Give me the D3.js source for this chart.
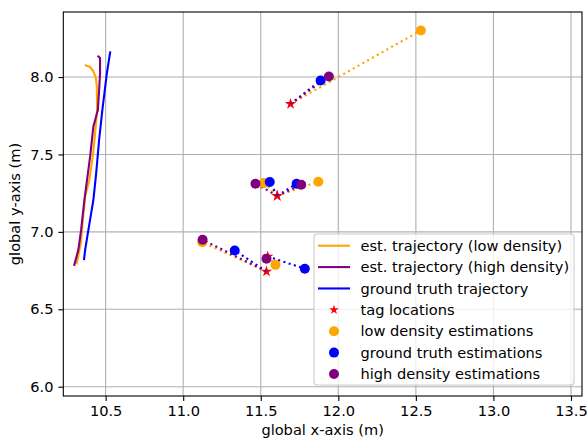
<!DOCTYPE html>
<html><head><meta charset="utf-8">
<script src="https://cdn.jsdelivr.net/npm/d3@7"></script>
<style>body{margin:0;background:#fff}svg{display:block}text{font-family:"DejaVu Sans",sans-serif}</style>
</head><body><svg id="c" width="587" height="438"></svg>
<script>
// ---- data ----
const xTicks = [10.5, 11.0, 11.5, 12.0, 12.5, 13.0, 13.5];
const yTicks = [6.0, 6.5, 7.0, 7.5, 8.0];
const trajLow = [[10.372,8.075],[10.400,8.065],[10.421,8.036],[10.437,7.994],[10.443,7.939],[10.445,7.789],[10.432,7.638],[10.417,7.487],[10.395,7.337],[10.368,7.229],[10.353,7.078],[10.340,6.928],[10.314,6.798]];
const trajHigh = [[10.298,6.787],[10.324,6.884],[10.342,7.014],[10.363,7.207],[10.400,7.487],[10.421,7.681],[10.450,7.789],[10.458,7.918],[10.464,8.026],[10.464,8.123],[10.453,8.133]];
const trajGT = [[10.361,6.824],[10.368,6.884],[10.389,7.014],[10.421,7.207],[10.439,7.380],[10.458,7.595],[10.479,7.789],[10.508,8.026],[10.529,8.159]];
const tags = [[11.692,7.826],[11.606,7.233],[11.606,7.233],[11.537,6.744],[11.545,6.841]];
const estLow = [[12.532,8.301],[11.519,7.315],[11.871,7.324],[11.123,6.934],[11.595,6.787]];
const estGT = [[11.886,7.978],[11.558,7.322],[11.731,7.311],[11.332,6.880],[11.784,6.762]];
const estHigh = [[11.939,8.004],[11.466,7.311],[11.761,7.304],[11.125,6.949],[11.537,6.826]];
const legendLabels = ["est. trajectory (low density)","est. trajectory (high density)","ground truth trajectory","tag locations","low density estimations","ground truth estimations","high density estimations"];
const colors = {low:"orange", high:"purple", gt:"blue", tag:"red"};

// ---- layout ----
const L=63.3, R=582, T=12, B=396;
const x = d3.scaleLinear().domain([10.227,13.571]).range([L,R]);
const y = d3.scaleLinear().domain([5.94,8.42]).range([B,T]);
const svg = d3.select("#c");
const fs = 14.6;

// grid
const g = svg.append("g");
g.selectAll(".gx").data(xTicks).join("line").attr("x1",d=>x(d)).attr("x2",d=>x(d)).attr("y1",T).attr("y2",B).attr("stroke","#b0b0b0").attr("stroke-width",1.1);
g.selectAll(".gy").data(yTicks).join("line").attr("y1",d=>y(d)).attr("y2",d=>y(d)).attr("x1",L).attr("x2",R).attr("stroke","#b0b0b0").attr("stroke-width",1.1);

svg.append("defs").append("clipPath").attr("id","pc").append("rect").attr("x",L).attr("y",T).attr("width",R-L).attr("height",B-T);
const p = svg.append("g").attr("clip-path","url(#pc)");

const line = d3.line().x(d=>x(d[0])).y(d=>y(d[1]));
[[trajLow,colors.low],[trajHigh,colors.high],[trajGT,colors.gt]].forEach(([d,c])=>{
  p.append("path").attr("d",line(d)).attr("fill","none").attr("stroke",c).attr("stroke-width",2.1).attr("stroke-linejoin","round").attr("stroke-linecap","square");
});

function starPath(r){
  const ri=r*0.382; let s="";
  for(let i=0;i<10;i++){const a=Math.PI*i/5; const rr=i%2?ri:r; s+=(i?"L":"M")+(rr*Math.sin(a)).toFixed(2)+","+(-rr*Math.cos(a)).toFixed(2);}
  return s+"Z";
}
// tags
p.selectAll(".tag").data(tags).join("path").attr("d",starPath(6)).attr("transform",d=>`translate(${x(d[0])},${y(d[1])})`).attr("fill",colors.tag);
// dotted connectors
[[estLow,colors.low],[estGT,colors.gt],[estHigh,colors.high]].forEach(([est,c])=>{
  p.selectAll(null).data(est).join("line").attr("x1",(d,i)=>x(tags[i][0])).attr("y1",(d,i)=>y(tags[i][1])).attr("x2",d=>x(d[0])).attr("y2",d=>y(d[1]))
   .attr("stroke",c).attr("stroke-width",2.1).attr("stroke-dasharray","2.1,3.4");
});
// estimations
[[estLow,colors.low],[estGT,colors.gt],[estHigh,colors.high]].forEach(([est,c])=>{
  p.selectAll(null).data(est).join("circle").attr("cx",d=>x(d[0])).attr("cy",d=>y(d[1])).attr("r",5).attr("fill",c);
});

// axes frame
svg.append("rect").attr("x",L).attr("y",T).attr("width",R-L).attr("height",B-T).attr("fill","none").attr("stroke","#000").attr("stroke-width",1.1);
// ticks
const xa = svg.append("g").attr("transform",`translate(0,${B})`).call(d3.axisBottom(x).tickValues(xTicks).tickFormat(d3.format(".1f")).tickSize(4.9).tickPadding(4.9));
const ya = svg.append("g").attr("transform",`translate(${L},0)`).call(d3.axisLeft(y).tickValues(yTicks).tickFormat(d3.format(".1f")).tickSize(4.9).tickPadding(4.9));
[xa,ya].forEach(a=>{a.select(".domain").remove(); a.selectAll("line").attr("stroke","#000").attr("stroke-width",1.1); a.selectAll("text").attr("font-size",fs).attr("fill","#000").style("font-family","DejaVu Sans");});
// labels
svg.append("text").attr("x",(L+R)/2).attr("y",435).attr("text-anchor","middle").attr("font-size",fs).text("global x-axis (m)");
svg.append("text").attr("transform",`translate(20,${(T+B)/2}) rotate(-90)`).attr("text-anchor","middle").attr("font-size",fs).text("global y-axis (m)");

// legend
const lg = svg.append("g");
const lx=314, ly=234, lw=260, lh=151;
lg.append("rect").attr("x",lx).attr("y",ly).attr("width",lw).attr("height",lh).attr("rx",3).attr("fill","#fff").attr("fill-opacity",0.8).attr("stroke","#cccccc").attr("stroke-width",1.1);
const rowY = d3.scaleLinear().domain([0,6]).range([245.7,374]);
const kinds = ["line","line","line","star","dot","dot","dot"];
const kcol = [colors.low,colors.high,colors.gt,colors.tag,colors.low,colors.gt,colors.high];
legendLabels.forEach((t,i)=>{
  const yy=rowY(i);
  if(kinds[i]==="line") lg.append("line").attr("x1",318).attr("x2",350).attr("y1",yy).attr("y2",yy).attr("stroke",kcol[i]).attr("stroke-width",2.1);
  else if(kinds[i]==="star") lg.append("path").attr("d",starPath(5)).attr("transform",`translate(334,${yy})`).attr("fill",kcol[i]);
  else lg.append("circle").attr("cx",334).attr("cy",yy).attr("r",5).attr("fill",kcol[i]);
  lg.append("text").attr("x",360.5).attr("y",yy).attr("dy","0.36em").attr("font-size",fs).text(t);
});
</script></body></html>
